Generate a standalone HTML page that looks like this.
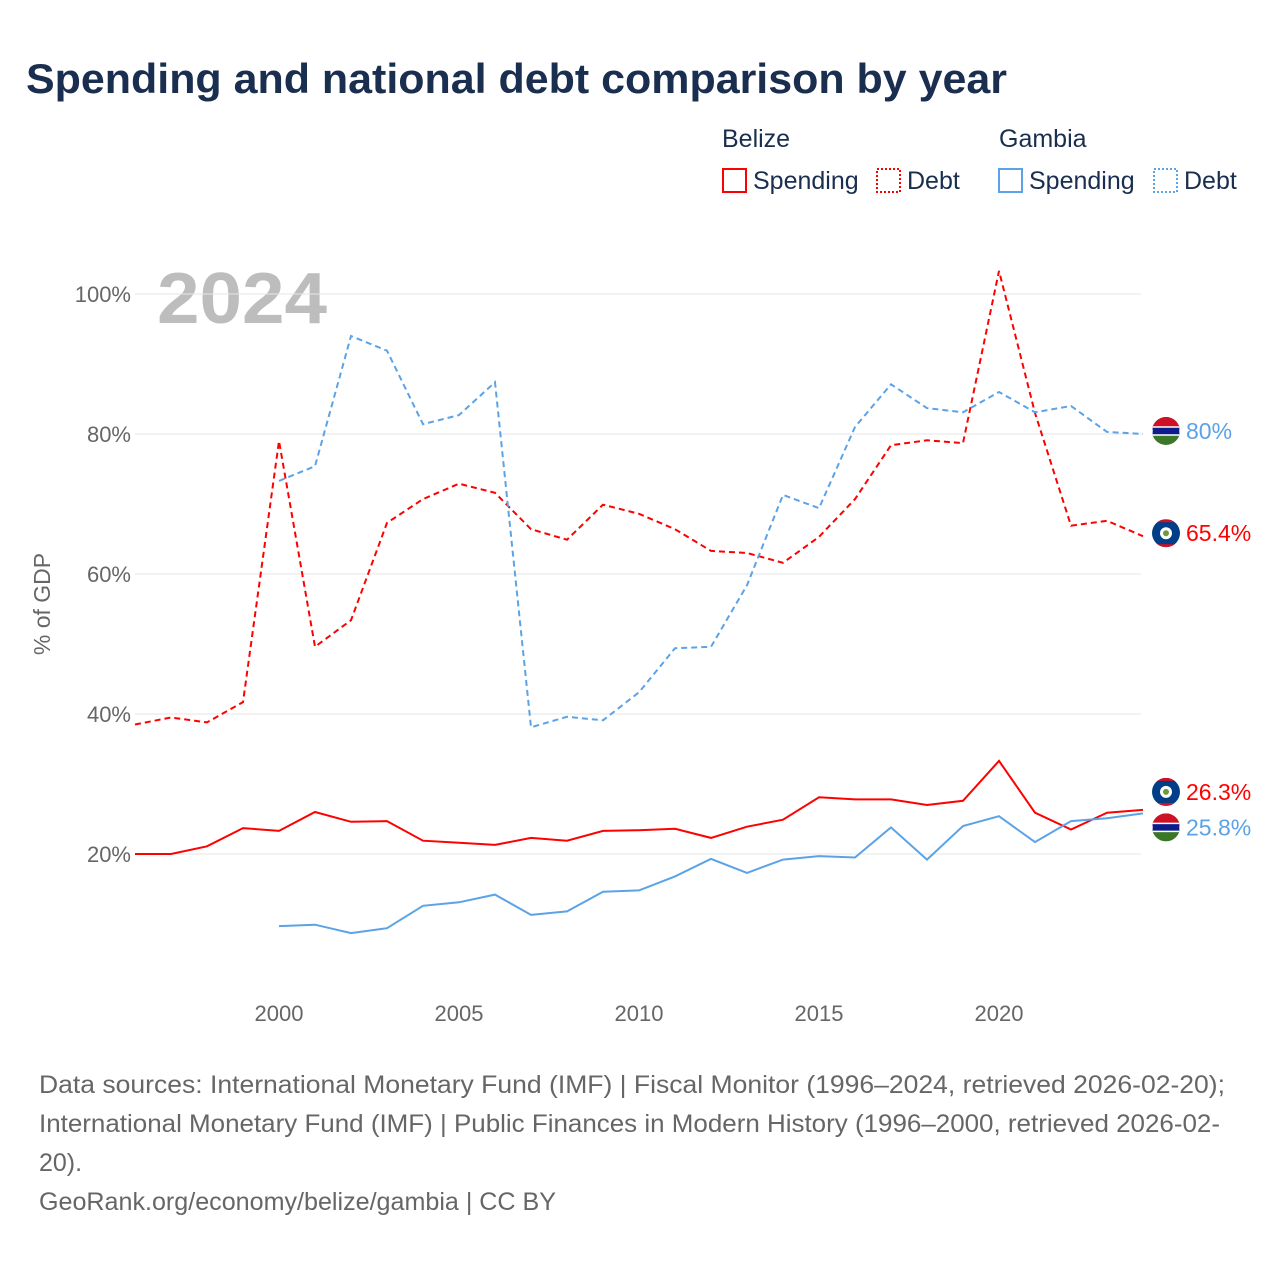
<!DOCTYPE html>
<html><head><meta charset="utf-8"><style>
body{margin:0;background:#fff;font-family:"Liberation Sans",sans-serif;}
#wrap{position:relative;width:1280px;height:1280px;overflow:hidden;}
</style></head><body>
<div id="wrap">
<svg id="chart" width="1280" height="1280" style="position:absolute;left:0;top:0">
<defs><clipPath id="fc"><circle cx="0" cy="0" r="14"/></clipPath></defs>
<text x="26" y="93" font-size="42" font-weight="bold" fill="#1a2e4f" textLength="981" lengthAdjust="spacingAndGlyphs">Spending and national debt comparison by year</text>
<g font-size="25" fill="#1a2e4f">
<text x="722" y="147">Belize</text>
<text x="999" y="147">Gambia</text>
<g><rect x="723" y="169" width="23" height="23" fill="none" stroke="#f00" stroke-width="2"/><text x="753" y="189">Spending</text></g>
<g><rect x="877" y="169" width="23" height="23" fill="none" stroke="#f00" stroke-width="2" stroke-dasharray="2,2"/><text x="907" y="189">Debt</text></g>
<g><rect x="999" y="169" width="23" height="23" fill="none" stroke="#5ba3e6" stroke-width="2"/><text x="1029" y="189">Spending</text></g>
<g><rect x="1154" y="169" width="23" height="23" fill="none" stroke="#5ba3e6" stroke-width="2" stroke-dasharray="2,2"/><text x="1184" y="189">Debt</text></g>
</g>
<text x="157" y="323" font-size="72" font-weight="bold" fill="#bdbdbd" textLength="170" lengthAdjust="spacingAndGlyphs">2024</text>
<g id="grid"></g><g id="lines"></g>
<text transform="translate(50,604) rotate(-90)" text-anchor="middle" font-size="23" fill="#666">% of GDP</text>
<g font-size="25" fill="#666">
<text x="39" y="1093" textLength="1186" lengthAdjust="spacingAndGlyphs">Data sources: International Monetary Fund (IMF) | Fiscal Monitor (1996–2024, retrieved 2026-02-20);</text>
<text x="39" y="1132" textLength="1181" lengthAdjust="spacingAndGlyphs">International Monetary Fund (IMF) | Public Finances in Modern History (1996–2000, retrieved 2026-02-</text>
<text x="39" y="1171">20).</text>
<text x="39" y="1210" textLength="517" lengthAdjust="spacingAndGlyphs">GeoRank.org/economy/belize/gambia | CC BY</text>
</g>
</svg>
</div>
<script>
const years=[];for(let y=1996;y<=2024;y++)years.push(y);
const belizeDebt=[38.5,39.5,38.8,41.7,79,49.6,53.4,67.3,70.7,72.9,71.6,66.4,64.9,69.9,68.6,66.4,63.3,63,61.6,65.3,70.7,78.4,79.1,78.7,103.3,83,66.9,67.6,65.4];
const gambiaDebt=[null,null,null,null,73.3,75.4,94,91.9,81.4,82.7,87.4,38.1,39.6,39.1,43.1,49.4,49.6,58.4,71.3,69.4,81,87.1,83.7,83.1,86,83.1,84,80.3,80];
const belizeSpending=[20,20,21.1,23.7,23.3,26,24.6,24.7,21.9,21.6,21.3,22.3,21.9,23.3,23.4,23.6,22.3,23.9,24.9,28.1,27.8,27.8,27,27.6,33.3,25.9,23.5,25.9,26.3];
const gambiaSpending=[null,null,null,null,9.7,9.9,8.7,9.4,12.6,13.1,14.2,11.3,11.8,14.6,14.8,16.8,19.3,17.3,19.2,19.7,19.5,23.8,19.2,24,25.4,21.7,24.7,25.1,25.8];
const yTicks=[20,40,60,80,100];
const xTicks=[2000,2005,2010,2015,2020];
const X=y=>135+(y-1996)*36, Y=v=>994-7*v;
const NS="http://www.w3.org/2000/svg";
const grid=document.getElementById('grid'), lines=document.getElementById('lines');
function mk(tag,attrs,parent){const e=document.createElementNS(NS,tag);for(const k in attrs)e.setAttribute(k,attrs[k]);parent.appendChild(e);return e;}
yTicks.forEach(v=>{
 const l=mk('line',{x1:135,x2:1141,y1:Y(v),y2:Y(v),stroke:'#e6e6e6','stroke-width':1},grid);
 
 
 const t=mk('text',{x:131,y:Y(v)+8,'text-anchor':'end','font-size':22,fill:'#666'},grid);
 t.textContent=v+'%';
 
 
});
xTicks.forEach(v=>{
 const t=mk('text',{x:X(v),y:1021,'text-anchor':'middle','font-size':22,fill:'#666'},grid);
 t.textContent=v;
 
 
});
function path(vals,color,dash,name){
 let d='';vals.forEach((v,i)=>{if(v==null)return;d+=(d?'L':'M')+X(years[i])+','+Y(v);});
 const p=mk('path',{d:d,fill:'none',stroke:color,'stroke-width':2,'stroke-dasharray':dash||'none'},lines);
 
 
}
path(belizeDebt,'#f00','6,4','belize-debt-line');
path(gambiaDebt,'#5ba3e6','6,4','gambia-debt-line');
path(belizeSpending,'#f00','','belize-spending-line');
path(gambiaSpending,'#5ba3e6','','gambia-spending-line');
function endLabel(val,ly,color,flag,name){
 const g=mk('g',{},lines);
 
 
 const cx=1166;
 const f=mk('g',{transform:`translate(${cx},${ly})`,'clip-path':'url(#fc)'},g);
 if(flag==='gm'){
  mk('rect',{x:-14,y:-14,width:28,height:28,fill:'#3a7728'},f);
  mk('rect',{x:-14,y:-14,width:28,height:14,fill:'#ce1126'},f);
  mk('rect',{x:-14,y:-4,width:28,height:8,fill:'#0c1c8c',stroke:'#fff','stroke-width':1.5},f);
 }else{
  mk('rect',{x:-14,y:-14,width:28,height:28,fill:'#003f87'},f);
  mk('rect',{x:-14,y:-14,width:28,height:3,fill:'#ce1126'},f);
  mk('rect',{x:-14,y:11,width:28,height:3,fill:'#ce1126'},f);
  mk('circle',{cx:0,cy:0,r:6,fill:'#fff'},f);
  mk('circle',{cx:0,cy:0,r:3,fill:'#6a9a3a'},f);
 }
 const t=mk('text',{x:1186,y:ly+8,'font-size':23,fill:color},g);
 t.textContent=val+'%';
}
const n=years.length-1;
endLabel(gambiaDebt[n],Y(gambiaDebt[n])-3,'#5ba3e6','gm','gambia-debt-end-label');
endLabel(belizeDebt[n],Y(belizeDebt[n])-3,'#f00','bz','belize-debt-end-label');
endLabel(belizeSpending[n],Y(belizeSpending[n])-18,'#f00','bz','belize-spending-end-label');
endLabel(gambiaSpending[n],Y(gambiaSpending[n])+14,'#5ba3e6','gm','gambia-spending-end-label');
</script>
</body></html>
